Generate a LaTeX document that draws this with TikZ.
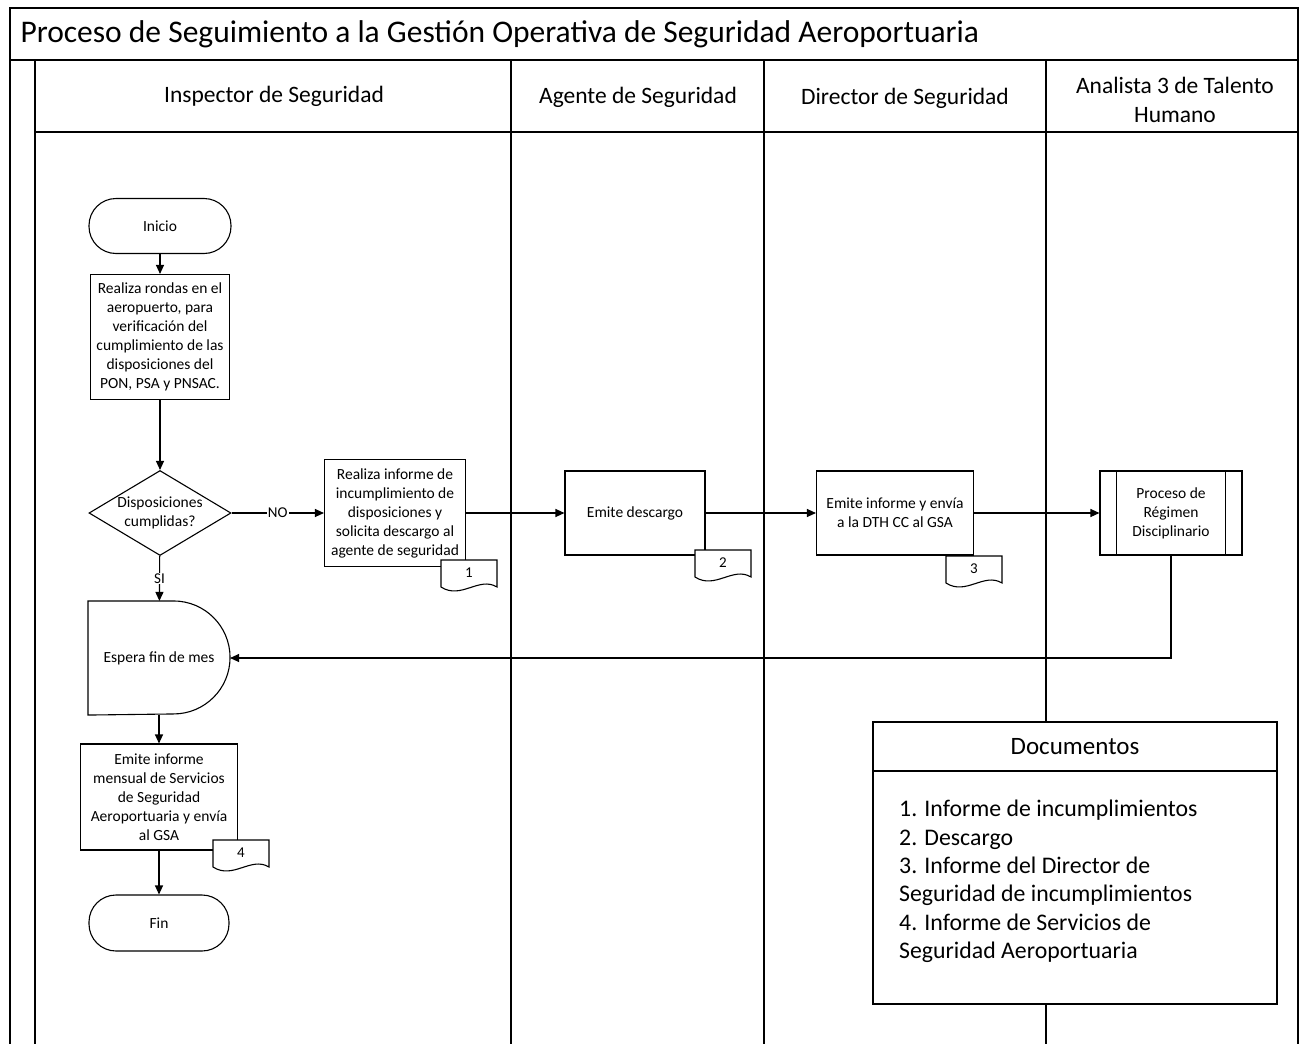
\documentclass[tikz,border=0pt]{standalone}
\usepackage{fontspec}
\setmainfont{Carlito}
\usetikzlibrary{arrows.meta,shapes.geometric}

\begin{document}
\begin{tikzpicture}[
  x=1pt, y=-1pt,
  frame/.style={line width=1.3pt},
  box/.style={draw, line width=1.1pt, align=center, inner sep=2pt, font=\fontsize{15.5}{19}\selectfont},
  term/.style={box, rounded corners=27pt, minimum width=142, minimum height=55},
  decide/.style={box, diamond, inner sep=0pt, minimum width=142, minimum height=85, aspect=1.67},
  arrow/.style={-{Triangle[length=9pt,width=8pt]}, line width=1.1pt},
  lbl/.style={fill=white, inner sep=1pt, font=\fontsize{15}{17}\selectfont},
  lane/.style={font=\fontsize{23.5}{29}\selectfont, align=center},
  tagnum/.style={font=\fontsize{15}{17}\selectfont}
]
\useasboundingbox (0,0) rectangle (1301,1044);

% marco y carriles
\draw[frame] (10,1044) -- (10,8) -- (1298,8) -- (1298,1044);
\draw[frame] (10,60) -- (1298,60);
\draw[frame] (35,60) -- (35,1044);
\draw[frame] (35,132) -- (1298,132);
\foreach \x in {511,764,1046}
  \draw[frame] (\x,60) -- (\x,1044);

\node[anchor=west, font=\fontsize{31.5}{36}\selectfont] (titulo) at (17,34) {Proceso de Seguimiento a la Gestión Operativa de Seguridad Aeroportuaria};
\node[lane] (inspector) at (274,96) {Inspector de Seguridad};
\node[lane] (agente) at (638,97) {Agente de Seguridad};
\node[lane] (director) at (905,98) {Director de Seguridad};
\node[lane] (analista) at (1175,100) {Analista 3 de Talento\\Humano};

% flujo
\node[term] (inicio) at (160,226) {Inicio};
\node[box, minimum width=139, minimum height=125] (rondas) at (160,337) {Realiza rondas en el\\aeropuerto, para\\verificación del\\cumplimiento de las\\disposiciones del\\PON, PSA y PNSAC.};
\node[decide] (cumple) at (160,513) {Disposiciones\\cumplidas?};
\node[box, minimum width=141, minimum height=107] (informe) at (395,513) {Realiza informe de\\incumplimiento de\\disposiciones y\\solicita descargo al\\agente de seguridad};
\node[box, minimum width=140, minimum height=84] (descargo) at (635,513) {Emite descargo};
\node[box, minimum width=157, minimum height=84] (dirinf) at (895,513) {Emite informe y envía\\a la DTH CC al GSA};
\node[box, minimum width=142, minimum height=84] (regimen) at (1171,513) {Proceso de\\Régimen\\Disciplinario};
\draw[line width=1.1pt] ([xshift=17]regimen.north west) -- ([xshift=17]regimen.south west);
\draw[line width=1.1pt] ([xshift=-17]regimen.north east) -- ([xshift=-17]regimen.south east);

\node[box, draw=none, minimum width=141, minimum height=113] (espera) at (159,658) {Espera fin de mes};
\draw[line width=1.1pt] (espera.north west) -- ([xshift=-56.5]espera.north east) arc[start angle=90, end angle=-90, radius=56.5pt] -- (espera.south west) -- cycle;
\node[box, minimum width=157, minimum height=106] (mensual) at (159,797) {Emite informe\\mensual de Servicios\\de Seguridad\\Aeroportuaria y envía\\al GSA};
\node[term, minimum width=140, minimum height=56] (fin) at (159,923) {Fin};

\draw[arrow] (inicio) -- (rondas);
\draw[arrow] (rondas) -- (cumple);
\draw[arrow] (cumple) -- node[lbl] {NO} (informe);
\draw[arrow] (cumple) -- node[lbl] {SI} (espera);
\draw[arrow] (informe) -- (descargo);
\draw[arrow] (descargo) -- (dirinf);
\draw[arrow] (dirinf) -- (regimen);
\draw[arrow] (regimen.south) |- (espera.east);
\draw[arrow] (espera) -- (mensual);
\draw[arrow] (mensual) -- (fin);

% documentos anexos
\foreach \n/\x/\y in {1/441/560, 2/695/550, 3/946/556, 4/213/840} {
  \draw[line width=1.1pt, fill=white] (\x,\y) -- (\x+56,\y) -- (\x+56,\y+27) .. controls (\x+38,\y+16) and (\x+20,\y+40) .. (\x,\y+27) -- cycle;
  \node[tagnum] (doc\n) at (\x+28,\y+13) {\n};
}

\node[draw, frame, fill=white, minimum width=404, minimum height=233] (docsbox) at (1075,887.5) {};
\node[draw, frame, fill=white, minimum width=404, minimum height=49, font=\fontsize{25}{29}\selectfont] (docshead) at (1075,746.5) {Documentos};
\node[anchor=north west, inner sep=0pt, align=left, font=\fontsize{23.8}{28.4}\selectfont] (doclist) at (899,800) {1. Informe de incumplimientos\\2. Descargo\\3. Informe del Director de\\Seguridad de incumplimientos\\4. Informe de Servicios de\\Seguridad Aeroportuaria};
\end{tikzpicture}
\end{document}
